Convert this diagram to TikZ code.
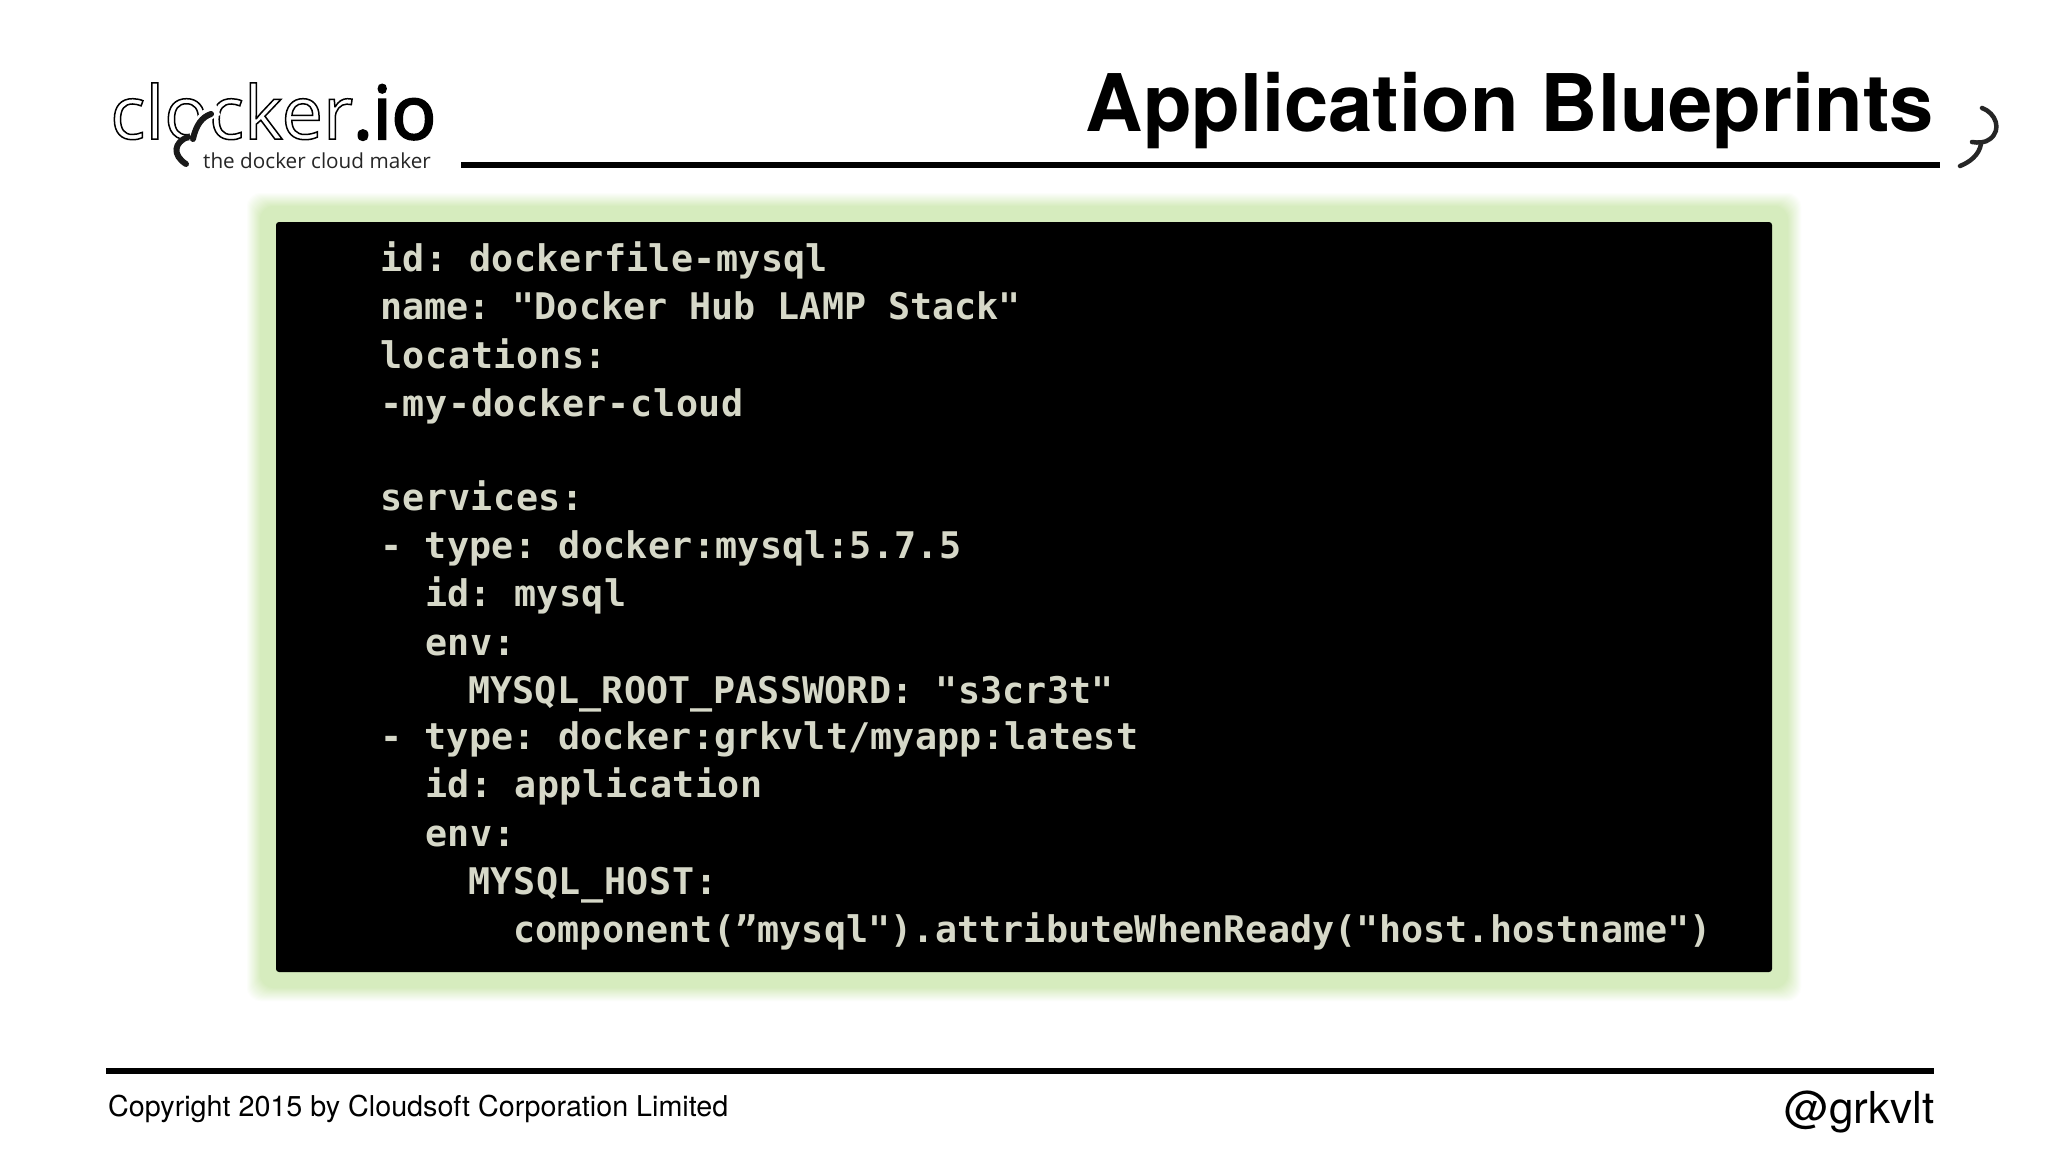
\documentclass[tikz,border=0pt]{standalone}
\usepackage{fontspec}
\setmainfont{TeX Gyre Heros}
\newfontfamily\codefont{DejaVu Sans Mono}[BoldFont={DejaVu Sans Mono Bold}]
\newfontfamily\logofont{Open Sans}
\definecolor{glowgreen}{RGB}{214,236,190}
\definecolor{codetext}{RGB}{214,216,200}
\newcommand{\outl}[1]{\special{pdf:code 1 Tr 1.5 w}#1\special{pdf:code 0 Tr}}
\newcommand{\heavy}[1]{\special{pdf:code 2 Tr 2.2 w}#1\special{pdf:code 0 Tr}}
\AtBeginDocument{\frenchspacing}
\tikzset{
  codeline/.style={anchor=base west,inner sep=0pt,text=codetext,font=\codefont\bfseries\fontsize{36.7}{40}\selectfont\addfontfeature{LetterSpace=#1}},
  rulebar/.style={line width=5.5pt,black},
  swoosh/.style={line width=6pt,line cap=round,black!90},
  halo/.style={line width=13pt,white},
}
\begin{document}
\begin{tikzpicture}[x=1pt,y=-1pt]
\useasboundingbox (0,0) rectangle (2048,1152);
\fill[white] (0,0) rectangle (2048,1152);
% glow
\foreach \d [evaluate=\d as \p using {(30-\d)*100/14}] in {30,29,...,16}
  \fill[glowgreen!\p!white,rounded corners=14pt] (276-\d,222-\d) rectangle (1772+\d,972+\d);
\fill[black,rounded corners=3pt] (276,222) rectangle (1772,972);
% code
\node[codeline=0.9] (l1) at (380,271) {id: dockerfile-mysql};
\node[codeline=0] (l2) at (380,319) {name: "Docker Hub LAMP Stack"};
\node[codeline=1.8] (l3) at (380,368) {locations:};
\node[codeline=1.8] (l4) at (380,416) {-my-docker-cloud};
\node[codeline=1.6] (l5) at (380,510) {services:};
\node[codeline=0.8] (l6) at (380,558) {- type: docker:mysql:5.7.5};
\node[codeline=0.8] (l7) at (425,606) {id: mysql};
\node[codeline=1.8] (l8) at (425,655) {env:};
\node[codeline=0.5] (l9) at (468,703) {MYSQL\_ROOT\_PASSWORD: "s3cr3t"};
\node[codeline=0.6] (l10) at (380,749) {- type: docker:grkvlt/myapp:latest};
\node[codeline=1.2] (l11) at (425,797) {id: application};
\node[codeline=1.8] (l12) at (425,846) {env:};
\node[codeline=1.6] (l13) at (468,894) {MYSQL\_HOST:};
\node[codeline=0.3] (l14) at (513,942) {component(”mysql").attributeWhenReady("host.hostname")};
% header
\node[anchor=base east,inner sep=0pt,font=\bfseries\fontsize{79.5}{90}\selectfont] (title) at (1934,131) {Application Blueprints};
\draw[rulebar] (461,165) -- (1940,165);
% logo
\node[anchor=base west,inner sep=0pt,font=\logofont\fontsize{74}{80}\selectfont] (logo) at (110,139) {\outl{clocker}\heavy{.io}};
\node[anchor=base east,inner sep=0pt,font=\logofont\fontsize{20.7}{26}\selectfont,text=black!85] (tag) at (431,168) {the docker cloud maker};
\draw[halo] (218,109) .. controls (205,113) and (198,124) .. (195,141);
\draw[swoosh] (211,114) .. controls (202,117) and (196,125) .. (193,139);
\draw[swoosh] (188,137) .. controls (174,142) and (172,155) .. (186,164);
% corner mark
\draw[line width=4.5pt,line cap=round,black!85] (1982,108) .. controls (1996,113) and (2002,130) .. (1990,139) .. controls (1985,143) and (1978,143) .. (1972,142);
\draw[line width=4.5pt,line cap=round,black!85] (1981,144) .. controls (1979,155) and (1970,162) .. (1960,166);
% footer
\draw[rulebar] (106,1071) -- (1934,1071);
\node[anchor=base west,inner sep=0pt,font=\fontsize{28.7}{34}\selectfont] (copy) at (108,1116) {Copyright 2015 by Cloudsoft Corporation Limited};
\node[anchor=base east,inner sep=0pt,font=\fontsize{44}{50}\selectfont] (handle) at (1935,1123) {@grkvlt};
\end{tikzpicture}
\end{document}
